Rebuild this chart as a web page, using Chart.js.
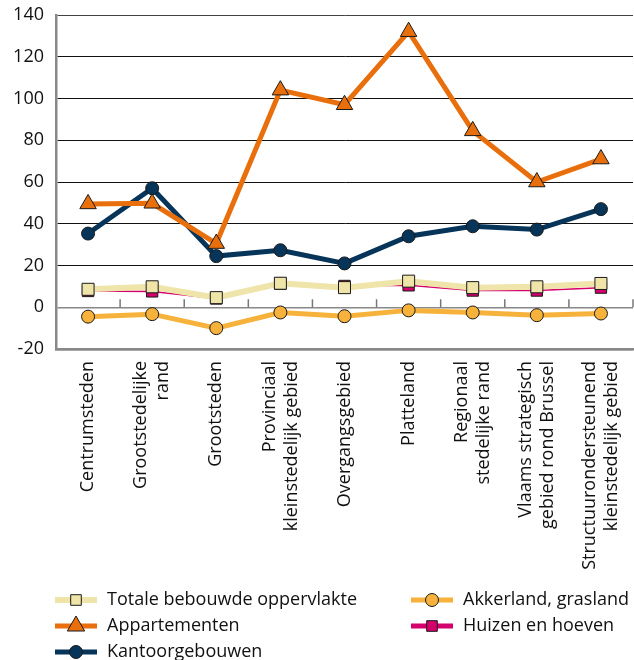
<!DOCTYPE html>
<html lang="nl">
<head>
  <meta charset="UTF-8" />
  <title>Ruimtebeslag per gebiedstype</title>
  <style>
    body { margin: 0; background: #fff; }
    #wrap { width: 634px; height: 660px; }
  </style>
</head>
<body>
  <div id="wrap"><canvas id="chart" width="634" height="660"></canvas></div>

  <script src="https://cdn.jsdelivr.net/npm/chart.js"></script>
  <script>
    // categorieen (gebiedstypes)
    const categories = [
      'Centrumsteden',
      ['Grootstedelijke', 'rand'],
      'Grootsteden',
      ['Provinciaal', 'kleinstedelijk gebied'],
      'Overgangsgebied',
      'Platteland',
      ['Regionaal', 'stedelijke rand'],
      ['Vlaams strategisch', 'gebied rond Brussel'],
      ['Structuurondersteunend', 'kleinstedelijk gebied']
    ];

    const yTicks = [-20, 0, 20, 40, 60, 80, 100, 120, 140];

    const totaleBebouwd   = [8.6, 9.8, 4.6, 11.5, 9.4, 12.5, 9.4, 9.8, 11.4];
    const akkerland       = [-4.5, -3.3, -10, -2.5, -4.3, -1.5, -2.5, -3.8, -3.0];
    const appartementen   = [49.5, 49.8, 30.5, 104, 97, 132, 84.5, 60, 71];
    const huizenHoeven    = [7.8, 7.6, 4.2, 11.3, 10.2, 10.5, 8.0, 8.0, 9.4];
    const kantoorgebouwen = [35.3, 57, 24.5, 27.3, 21, 34, 38.8, 37.2, 47];

    const FONT = '"Open Sans", "Noto Sans", sans-serif';

    // korte streepjes op de nullijn tussen de categorieen
    const zeroTicks = {
      id: 'zeroTicks',
      beforeDatasetsDraw(chart) {
        const x = chart.scales.x, y = chart.scales.y;
        const y0 = y.getPixelForValue(0);
        const ctx = chart.ctx;
        ctx.save();
        ctx.strokeStyle = '#777';
        ctx.lineWidth = 1.5;
        for (let i = 0; i < categories.length; i++) {
          const xb = (x.getPixelForValue(i) + x.getPixelForValue(i + 1)) / 2;
          ctx.beginPath();
          ctx.moveTo(xb, y0);
          ctx.lineTo(xb, y0 - 8);
          ctx.stroke();
        }
        ctx.restore();
      }
    };

    // verticale categorielabels, meerdere regels gecentreerd op de categorie
    const verticalLabels = {
      id: 'verticalLabels',
      afterDraw(chart) {
        const x = chart.scales.x;
        const ctx = chart.ctx;
        const lh = 22;
        const top = chart.chartArea.bottom + 12;
        ctx.save();
        ctx.fillStyle = '#111';
        ctx.font = '18px ' + FONT;
        ctx.textAlign = 'right';
        ctx.textBaseline = 'middle';
        categories.forEach((cat, i) => {
          const lines = Array.isArray(cat) ? cat : [cat];
          const cx = x.getPixelForValue(i);
          lines.forEach((txt, j) => {
            const px = cx + (j - (lines.length - 1) / 2) * lh;
            ctx.save();
            ctx.translate(px, top);
            ctx.rotate(-Math.PI / 2);
            ctx.fillText(txt, 0, 0);
            ctx.restore();
          });
        });
        ctx.restore();
      }
    };

    // legende in twee kolommen
    const legendOrder = [0, 2, 4, 1, 3];
    const twoColLegend = {
      id: 'twoColLegend',
      afterDraw(chart) {
        const ctx = chart.ctx;
        const ds = chart.data.datasets;
        ctx.save();
        legendOrder.forEach((di, k) => {
          const d = ds[di];
          const col = k < 3 ? 0 : 1;
          const row = k < 3 ? k : k - 3;
          const x0 = col === 0 ? 55 : 411;
          const yc = 600 + row * 26;
          ctx.strokeStyle = d.borderColor;
          ctx.lineWidth = Math.max(d.borderWidth, 5);
          ctx.beginPath();
          ctx.moveTo(x0, yc);
          ctx.lineTo(x0 + 42, yc);
          ctx.stroke();
          ctx.fillStyle = d.pointBackgroundColor;
          ctx.strokeStyle = d.pointBorderColor;
          ctx.lineWidth = 1;
          const r = d.pointStyle === 'triangle' ? 10 : (d.pointStyle === 'rect' ? 7.5 : 6.5);
          Chart.helpers.drawPoint(ctx, {
            pointStyle: d.pointStyle,
            radius: r,
            rotation: 0,
            borderWidth: 1
          }, x0 + 21, yc);
          ctx.fillStyle = '#111';
          ctx.font = '18px ' + FONT;
          ctx.textBaseline = 'middle';
          ctx.textAlign = 'left';
          ctx.fillText(d.label, x0 + 52, yc);
        });
        ctx.restore();
      }
    };

    function line(label, data, color, width, style, radius, fill, order) {
      return {
        label,
        data,
        borderColor: color,
        borderWidth: width,
        pointStyle: style,
        pointRadius: radius,
        pointBackgroundColor: fill,
        pointBorderColor: '#1a1a1a',
        pointBorderWidth: 1,
        tension: 0,
        clip: false,
        order
      };
    }

    new Chart(document.getElementById('chart'), {
      type: 'line',
      data: {
        labels: categories,
        datasets: [
          line('Totale bebouwde oppervlakte', totaleBebouwd, '#efe4a9', 6, 'rect', 8.5, '#f0e5a8', 2),
          line('Akkerland, grasland', akkerland, '#f6b23b', 5, 'circle', 6.5, '#f6b23b', 1),
          line('Appartementen', appartementen, '#e96f0c', 5, 'triangle', 9.5, '#e96f0c', 0),
          line('Huizen en hoeven', huizenHoeven, '#d4006b', 1.5, 'rect', 8, '#d4006b', 3),
          line('Kantoorgebouwen', kantoorgebouwen, '#073459', 5, 'circle', 6.5, '#073459', 4)
        ]
      },
      options: {
        responsive: false,
        animation: false,
        layout: { autoPadding: false, padding: { left: 0, right: 1, top: 15, bottom: 70 } },
        plugins: {
          legend: { display: false },
          tooltip: { enabled: false }
        },
        scales: {
          x: {
            offset: true,
            grid: { display: false, drawTicks: false },
            border: { display: true, color: '#888', width: 2.5 },
            ticks: { display: false },
            afterFit(scale) {
              scale.height = 241;
              scale.paddingLeft = 0;
              scale.paddingRight = 0;
            }
          },
          y: {
            min: -20,
            max: 140,
            afterBuildTicks(scale) { scale.ticks = yTicks.map(v => ({ value: v })); },
            grid: {
              drawTicks: false,
              color: c => (c.tick.value === 0 || c.tick.value === -20) ? '#888' : (c.tick.value === 140 ? '#444' : '#111'),
              lineWidth: c => c.tick.value === 0 ? 1.5 : (c.tick.value === -20 ? 2.5 : 1)
            },
            border: { display: true, color: '#888', width: 2.5 },
            ticks: {
              padding: 12,
              color: '#111',
              font: { family: FONT, size: 18 }
            },
            afterFit(scale) {
              scale.width = 56;
              scale.paddingTop = 0;
              scale.paddingBottom = 0;
            }
          }
        }
      },
      plugins: [zeroTicks, verticalLabels, twoColLegend]
    });
  </script>
</body>
</html>
